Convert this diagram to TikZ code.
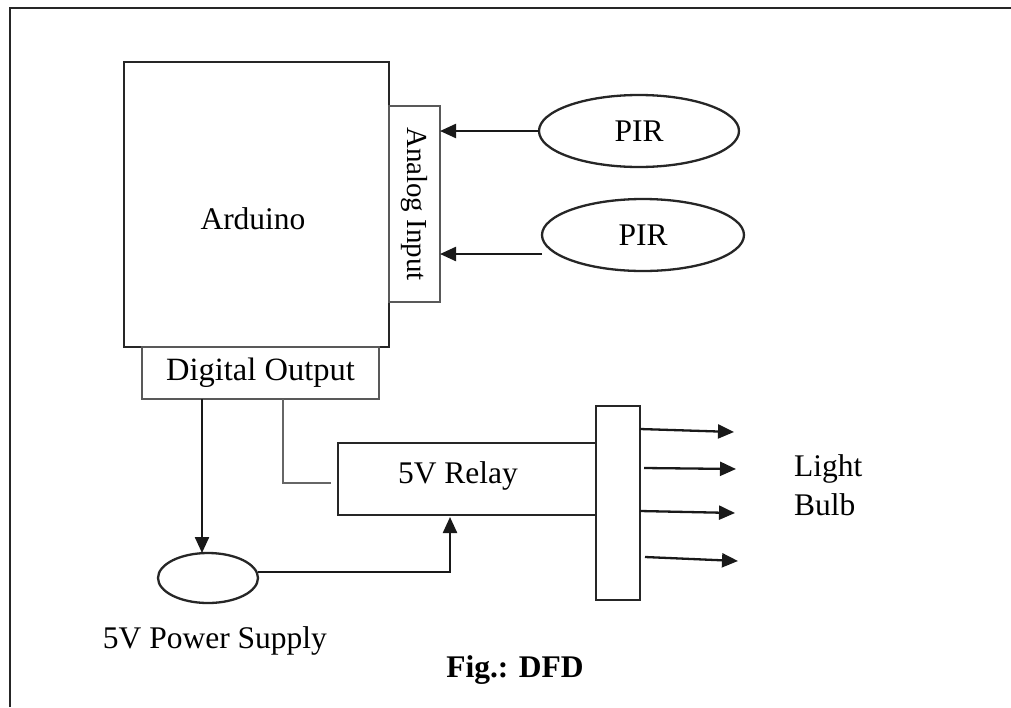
\documentclass[tikz,border=0pt]{standalone}
\usepackage{fontspec}
\setmainfont{Liberation Serif}
\usetikzlibrary{shapes.geometric,arrows.meta}
\begin{document}
\begin{tikzpicture}[x=1pt,y=-1pt,
  every node/.style={inner sep=0pt,outer sep=0pt},
  line/.style={draw=black!85,line width=2.3pt},
  thinbox/.style={draw=black!65,line width=1.5pt,fill=white},
  arr/.style={draw=black!90,line width=2.3pt,-{Triangle[length=16pt,width=14pt]}},
  lbl/.style={font=\fontsize{31.5}{39}\selectfont},
  anlbl/.style={font=\fontsize{29}{35}\selectfont},
  figlbl/.style={font=\fontsize{31.5}{39}\selectfont\bfseries}]
\useasboundingbox (0,0) rectangle (1011,707);
\fill[white] (0,0) rectangle (1011,707);
\draw[line] (10,707) -- (10,8) -- (1011,8);

% Arduino
\node[rectangle,line,minimum width=265pt,minimum height=285pt] (ard) at (256.5,204.5) {};
\node[lbl] (ardt) at (253,219) {Arduino};
\node[rectangle,thinbox,rotate=-90,minimum width=196pt,minimum height=51pt,anlbl] (ana) at (414.5,204) {Analog Input};
\node[rectangle,thinbox,minimum width=237pt,minimum height=52pt,font=\fontsize{32.5}{39}\selectfont] (dout) at (260.5,373) {Digital Output};

% PIR sensors
\node[ellipse,line,minimum width=200pt,minimum height=72pt,lbl] (pir1) at (639,131) {PIR};
\node[ellipse,line,minimum width=202pt,minimum height=72pt,lbl] (pir2) at (643,235) {PIR};
\draw[arr] (pir1.west) -- (pir1.west -| ana.north);
\draw[arr] ([yshift=-19pt]pir2.west) -- ([yshift=-19pt]pir2.west -| ana.north);

% Power supply
\node[ellipse,line,minimum width=100pt,minimum height=50pt] (ps) at (208,578) {};
\node[lbl] (pst) at (215,641) {5V Power Supply};

% Relay and bus
\node[rectangle,line,minimum width=258pt,minimum height=72pt] (relay) at (467,479) {};
\node[lbl] (relayt) at (458,476) {5V Relay};
\node[rectangle,line,minimum width=44pt,minimum height=194pt] (tall) at (618,503) {};

% connectors
\draw[arr] ([xshift=-58.5pt]dout.south) -- ([xshift=-58.5pt]dout.south |- ps.north);
\draw[draw=black!60,line width=1.5pt] ([xshift=22.5pt]dout.south) |- ([xshift=-7pt,yshift=-4pt]relay.west);
\draw[arr] ([yshift=6pt]ps.east) -| ([xshift=-17pt,yshift=-2pt]relay.south);

% outputs
\coordinate (e1) at (734,432);
\coordinate (e2) at (736,469);
\coordinate (e3) at (735,513);
\coordinate (e4) at (738,561);
\draw[arr] ([yshift=74pt]tall.east) -- (e1);
\draw[arr] ([xshift=4pt,yshift=35pt]tall.east) -- (e2);
\draw[arr] ([yshift=-8pt]tall.east) -- (e3);
\draw[arr] ([xshift=5pt,yshift=-54pt]tall.east) -- (e4);
\node[lbl,align=left,anchor=west] (lb) at (794,485) {Light\\Bulb};

\node[figlbl] (fig) at (515,670) {Fig.: DFD};
\end{tikzpicture}
\end{document}
